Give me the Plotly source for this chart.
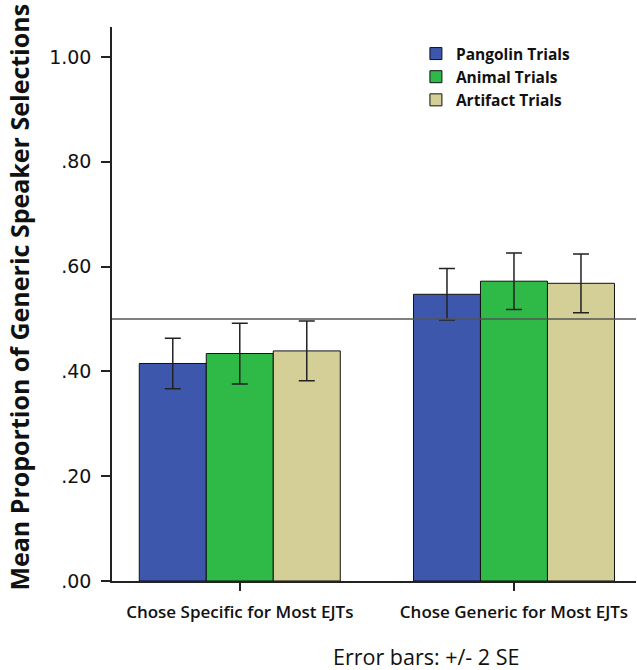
import plotly.graph_objects as go

categories = ["Chose Specific for Most EJTs", "Chose Generic for Most EJTs"]
series_names = ["Pangolin Trials", "Animal Trials", "Artifact Trials"]
pangolin = [0.415, 0.547]
animal = [0.434, 0.572]
artifact = [0.439, 0.568]
pangolin_err = [0.048, 0.049]
animal_err = [0.058, 0.054]
artifact_err = [0.057, 0.056]
reference_value = 0.5
y_ticks = [0, 0.2, 0.4, 0.6, 0.8, 1.0]
y_tick_labels = [".00", ".20", ".40", ".60", ".80", "1.00"]

colors = ["#3d57ac", "#2fba48", "#d4cf97"]
values = [pangolin, animal, artifact]
errors = [pangolin_err, animal_err, artifact_err]

fig = go.Figure()
for name, vals, errs, col in zip(series_names, values, errors, colors):
    fig.add_trace(go.Bar(
        x=categories, y=vals, name=name,
        marker=dict(color=col, line=dict(color="#111111", width=1)),
        error_y=dict(type="data", array=errs, visible=True,
                     color="#222222", thickness=1.5, width=8),
    ))

fig.add_shape(type="line", xref="paper", yref="y", x0=0, x1=1,
              y0=reference_value, y1=reference_value,
              line=dict(color="#555555", width=1.5), layer="above")

fig.add_annotation(text="Mean Proportion of Generic Speaker Selections",
                   xref="paper", yref="paper", x=-0.177, y=0.512,
                   xanchor="center", yanchor="middle",
                   textangle=-90, showarrow=False,
                   font=dict(family="Open Sans", size=25, color="#111111", weight="bold"))
fig.add_annotation(text="Error bars: +/- 2 SE",
                   xref="paper", yref="paper", x=0.601, y=-0.137,
                   xanchor="center", yanchor="middle",
                   showarrow=False,
                   font=dict(family="Open Sans", size=21.5, color="#111111"))

fig.update_layout(
    width=637, height=670,
    margin=dict(l=112, r=1, t=27, b=89),
    paper_bgcolor="white", plot_bgcolor="white",
    barmode="group", bargap=0.267, bargroupgap=0,
    showlegend=True,
    legend=dict(x=0.58, y=0.982, xanchor="left", yanchor="top",
                bgcolor="rgba(0,0,0,0)", tracegroupgap=0,
                font=dict(family="Open Sans", size=15.5, color="#111111", weight="bold")),
    xaxis=dict(range=[-0.466, 1.445], showline=True, linecolor="#222222", linewidth=1.5,
               ticks="outside", ticklen=8, tickwidth=1.5, tickcolor="#222222",
               showgrid=False, zeroline=False, ticklabelstandoff=7,
               tickfont=dict(family="Open Sans", size=17, color="#111111", weight=600)),
    yaxis=dict(range=[0, 1.057], showline=True, linecolor="#222222", linewidth=1.5,
               ticks="outside", ticklen=9, tickwidth=1.5, tickcolor="#222222",
               showgrid=False, zeroline=False, ticklabelstandoff=6,
               tickvals=y_ticks, ticktext=y_tick_labels,
               tickfont=dict(family="DejaVu Sans", size=19, color="#111111")),
)

fig.write_html("out.html")
